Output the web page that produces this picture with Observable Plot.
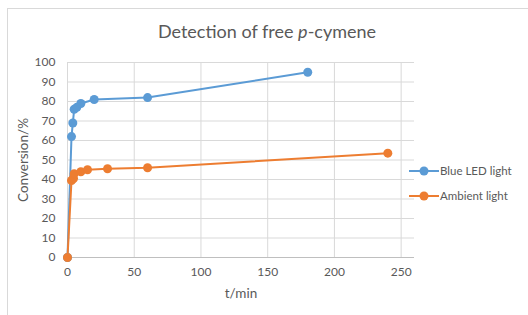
<!DOCTYPE html>
<html><head><meta charset="utf-8">
<script src="https://cdn.jsdelivr.net/npm/d3@7"></script>
<script src="https://cdn.jsdelivr.net/npm/@observablehq/plot@0.6"></script>
<style>
body{margin:0;background:#fff;font-family:Lato,"Open Sans",sans-serif;}
#wrap{position:relative;width:528px;height:315px;overflow:hidden;}
#frame{position:absolute;left:7px;top:8px;width:560px;height:340px;border:1px solid #d9d9d9;box-sizing:border-box;}
#title{position:absolute;left:0;width:534px;top:20px;text-align:center;font-size:18px;color:#595959;}
#legend{position:absolute;left:409px;top:158px;font-size:11.5px;color:#595959;}
.item{display:flex;align-items:center;height:25px;}
.item svg{margin-right:1px;}
#chart{position:absolute;left:0;top:0;}
</style></head>
<body><div id="wrap"><div id="frame"></div><div id="chart"></div><div id="title">Detection of free <i>p</i>-cymene</div><div id="legend"></div></div>
<script>
const seriesNames = ["Blue LED light", "Ambient light"];
const seriesColors = ["#5B9BD5", "#ED7D31"];
const blueT = [0, 3, 4, 5, 7, 10, 20, 60, 180];
const blueY = [0, 62, 69, 76, 77, 79, 81, 82, 95];
const ambT = [0, 3, 4.5, 5, 10, 15, 30, 60, 240];
const ambY = [0, 39.5, 40.5, 43, 44, 45, 45.5, 46, 53.5];
const xTicks = [0, 50, 100, 150, 200, 250];
const yTicks = [0, 10, 20, 30, 40, 50, 60, 70, 80, 90, 100];

const data = [
  ...blueT.map((t, i) => ({t, y: blueY[i], s: seriesNames[0]})),
  ...ambT.map((t, i) => ({t, y: ambY[i], s: seriesNames[1]}))
];

const chart = Plot.plot({
  width: 528, height: 315,
  marginLeft: 67, marginRight: 114, marginTop: 62, marginBottom: 58,
  style: {fontFamily: "Lato, sans-serif", fontSize: "11.5px", color: "#595959", background: "transparent"},
  x: {domain: [0, 260], ticks: xTicks, tickSize: 0, tickPadding: 10, label: "t/min", labelAnchor: "center", labelOffset: 40},
  y: {domain: [0, 100], ticks: yTicks, tickSize: 0, tickPadding: 12, label: "Conversion/%", labelAnchor: "center", labelOffset: 49},
  color: {domain: seriesNames, range: seriesColors},
  marks: [
    Plot.gridX(xTicks, {stroke: "#d9d9d9", strokeOpacity: 1}),
    Plot.gridY(yTicks, {stroke: "#d9d9d9", strokeOpacity: 1}),
    Plot.ruleY([0], {stroke: "#bfbfbf"}),
    Plot.axisX({ticks: xTicks, tickSize: 0, tickPadding: 10, label: "t/min", labelAnchor: "center", labelOffset: 40, labelArrow: "none", fontSize: 12}),
    Plot.axisY({ticks: yTicks, tickSize: 0, tickPadding: 12, label: "Conversion/%", labelAnchor: "center", labelOffset: 49, labelArrow: "none", fontSize: 12}),
    Plot.line(data, {x: "t", y: "y", z: "s", stroke: "s", strokeWidth: 2}),
    Plot.dot(data, {x: "t", y: "y", fill: "s", r: 4.5})
  ]
});
document.getElementById("chart").appendChild(chart);
chart.querySelectorAll("g[aria-label='x-axis label'] text, g[aria-label='y-axis label'] text").forEach(t => t.setAttribute("font-size", "13.5px"));

const leg = document.getElementById("legend");
seriesNames.forEach((n, i) => {
  const d = document.createElement("div");
  d.className = "item";
  d.innerHTML = `<svg width="30" height="12"><line x1="0" x2="30" y1="6" y2="6" stroke="${seriesColors[i]}" stroke-width="2"/><circle cx="15" cy="6" r="4.5" fill="${seriesColors[i]}"/></svg><span>${n}</span>`;
  leg.appendChild(d);
});
</script></body></html>
